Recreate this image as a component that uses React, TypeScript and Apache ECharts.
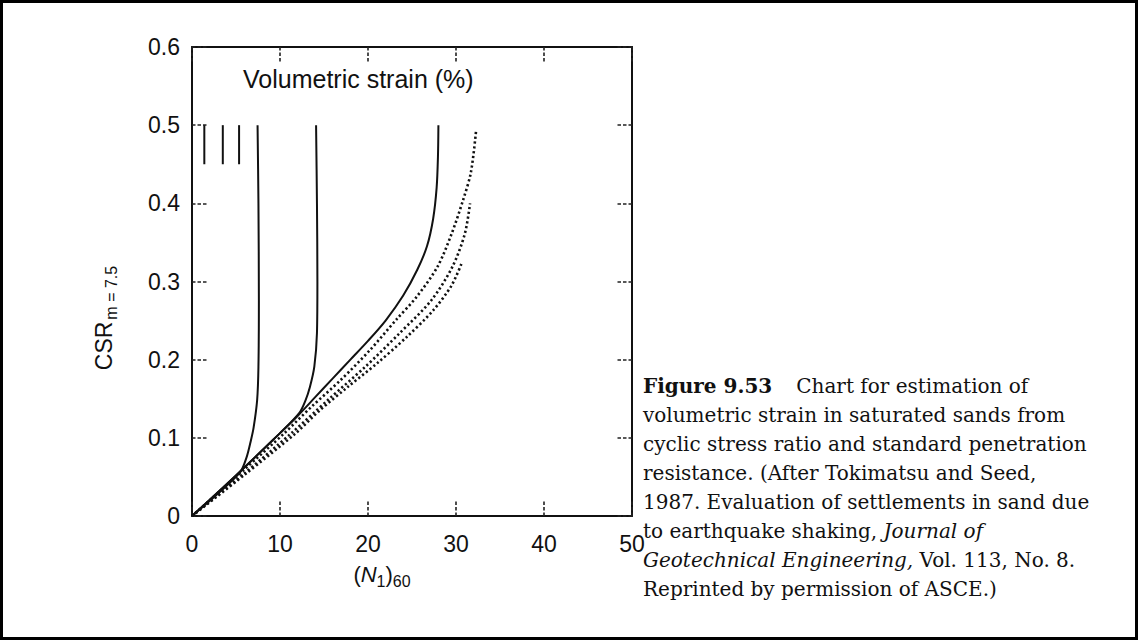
import React, { useEffect, useRef } from 'react';
import * as echarts from 'echarts';

// ---- data ----
const xTickLabels = ['0', '10', '20', '30', '40', '50'];
const yTickLabels = ['0', '0.1', '0.2', '0.3', '0.4', '0.5', '0.6'];

const strainLabels = ['10', '5', '4', '3', '2', '1', '0.5', '0.2', '0.1'];

const strain10 = [[1.4, 0.45], [1.4, 0.5]];
const strain5 = [[3.5, 0.45], [3.5, 0.5]];
const strain4 = [[5.35, 0.45], [5.35, 0.5]];
const strain3 = [[0, 0], [5.4, 0.055], [6.2, 0.075], [6.7, 0.097], [7.0, 0.113], [7.4, 0.148], [7.55, 0.191], [7.6, 0.276], [7.55, 0.4], [7.45, 0.5]];
const strain2 = [[0, 0], [5, 0.052], [10, 0.106], [12.2, 0.132], [12.9, 0.148], [13.4, 0.165], [13.9, 0.191], [14.2, 0.234], [14.25, 0.3], [14.2, 0.4], [14.1, 0.5]];
const strain1 = [[0, 0], [5, 0.052], [10, 0.106], [12, 0.128], [14, 0.152], [16, 0.176], [18, 0.2], [20, 0.224], [22, 0.25], [24, 0.282], [25.6, 0.315], [26.7, 0.345], [27.4, 0.38], [27.8, 0.42], [27.95, 0.46], [28, 0.5]];
const strain05 = [[0, 0], [6, 0.06], [10.5, 0.106], [13.6, 0.14], [16.9, 0.174], [20.2, 0.212], [23.2, 0.251], [25.5, 0.28], [27.9, 0.319], [29.5, 0.361], [30.8, 0.404], [31.7, 0.44], [32.3, 0.495]];
const strain02 = [[0, 0], [6, 0.055], [11.3, 0.106], [15.5, 0.149], [19.7, 0.191], [23.6, 0.234], [27.2, 0.276], [29.6, 0.319], [31, 0.361], [31.6, 0.4]];
const strain01 = [[0, 0], [6, 0.053], [11.8, 0.106], [14.5, 0.135], [17.8, 0.166], [21, 0.195], [24.4, 0.229], [27.4, 0.263], [29.5, 0.295], [30.7, 0.325]];

const captionLines = [
  '{b|Figure 9.53}{r|Chart for estimation of}',
  '{r|volumetric strain in saturated sands from}',
  '{r|cyclic stress ratio and standard penetration}',
  '{r|resistance. (After Tokimatsu and Seed,}',
  '{r|1987. Evaluation of settlements in sand due}',
  '{r|to earthquake shaking, }{i|Journal of}',
  '{i|Geotechnical Engineering,}{r| Vol. 113, No. 8.}',
  '{r|Reprinted by permission of ASCE.)}',
];

const SANS = '"Liberation Sans", Arial, sans-serif';
const SERIF = '"DejaVu Serif", serif';
const INK = '#111';

function App() {
  const ref = useRef<HTMLDivElement>(null);

  useEffect(() => {
    document.body.style.margin = '0';
    const chart = echarts.init(ref.current!, undefined, { renderer: 'svg' });

    const solid = { color: INK, width: 2 };
    const dotted = { color: INK, width: 2.6, type: [2.2, 2.6] as any };

    const topLabel = (text: string) => ({
      show: true,
      position: 'top',
      distance: 5,
      formatter: text,
      fontFamily: SANS,
      fontSize: 19,
      color: INK,
    });

    const sideLabel = (text: string, offset: number[]) => ({
      show: true,
      position: 'right',
      distance: 0,
      offset,
      formatter: text,
      fontFamily: SANS,
      fontSize: 19,
      color: INK,
    });

    const mk = (name: string, data: number[][], line: any, label: any) => ({
      type: 'line',
      name,
      data: data.map((p, i) =>
        i === data.length - 1 ? { value: p, label } : { value: p }
      ),
      showSymbol: true,
      symbol: 'none',
      smooth: 0.3,
      lineStyle: line,
      silent: true,
      z: 3,
    });

    const tick = () => ({
      show: true,
      inside: true,
      length: 15,
      lineStyle: { color: '#222', width: 1.6, type: [3.5, 2] as any },
    });
    const axisLine = () => ({ show: true, onZero: false, lineStyle: { color: INK, width: 2 } });

    chart.setOption({
      animation: false,
      backgroundColor: '#fff',
      grid: { left: 192, right: 506, top: 47, bottom: 124, containLabel: false },
      xAxis: [
        {
          type: 'value', min: 0, max: 50, interval: 10, position: 'bottom',
          axisLine: axisLine(), axisTick: tick(), splitLine: { show: false },
          axisLabel: {
            margin: 16, fontFamily: SANS, fontSize: 23, color: INK,
            formatter: (v: number) => xTickLabels[Math.round(v / 10)],
          },
        },
        {
          type: 'value', min: 0, max: 50, interval: 10, position: 'top',
          axisLine: axisLine(), axisTick: tick(), splitLine: { show: false },
          axisLabel: { show: false },
        },
      ],
      yAxis: [
        {
          type: 'value', min: 0, max: 0.6, interval: 0.1, position: 'left',
          axisLine: axisLine(), axisTick: tick(), splitLine: { show: false },
          axisLabel: {
            margin: 12, fontFamily: SANS, fontSize: 23, color: INK,
            formatter: (v: number) => yTickLabels[Math.round(v * 10)],
          },
        },
        {
          type: 'value', min: 0, max: 0.6, interval: 0.1, position: 'right',
          axisLine: axisLine(), axisTick: tick(), splitLine: { show: false },
          axisLabel: { show: false },
        },
      ],
      series: [
        mk('10', strain10, solid, topLabel(strainLabels[0])),
        mk('5', strain5, solid, topLabel(strainLabels[1])),
        mk('4', strain4, solid, topLabel(strainLabels[2])),
        mk('3', strain3, solid, topLabel(strainLabels[3])),
        mk('2', strain2, solid, topLabel(strainLabels[4])),
        mk('1', strain1, solid, topLabel(strainLabels[5])),
        mk('0.5', strain05, dotted, topLabel(strainLabels[6])),
        mk('0.2', strain02, dotted, sideLabel(strainLabels[7], [-2, -12])),
        mk('0.1', strain01, dotted, sideLabel(strainLabels[8], [2, -10])),
      ],
      graphic: [
        {
          type: 'text', left: 243, top: 66,
          style: { text: 'Volumetric strain (%)', fontFamily: SANS, fontSize: 25, fill: INK },
        },
        {
          type: 'text', x: 104, y: 318, rotation: Math.PI / 2,
          style: {
            text: '{a|CSR}{s|m = 7.5}',
            align: 'center', verticalAlign: 'middle',
            rich: {
              a: { fontFamily: SANS, fontSize: 23, fill: INK, lineHeight: 30, verticalAlign: 'middle' },
              s: { fontFamily: SANS, fontSize: 16, fill: INK, lineHeight: 16, verticalAlign: 'bottom', padding: [0, 0, 0, 2] },
            },
          },
        },
        {
          type: 'text', x: 382, y: 574,
          style: {
            text: '{p|(}{n|N}{s|1}{p|)}{s|60}',
            align: 'center', verticalAlign: 'middle',
            rich: {
              p: { fontFamily: SANS, fontSize: 22, fill: INK, lineHeight: 30, verticalAlign: 'middle' },
              n: { fontFamily: SANS, fontSize: 22, fontStyle: 'italic', fill: INK, lineHeight: 30, verticalAlign: 'middle' },
              s: { fontFamily: SANS, fontSize: 16, fill: INK, lineHeight: 16, verticalAlign: 'bottom' },
            },
          },
        },
        {
          type: 'text', left: 643, top: 376,
          style: {
            text: captionLines.join('\n'),
            rich: {
              b: { fontFamily: SERIF, fontSize: 20, fontWeight: 'bold', fill: INK, lineHeight: 29, padding: [0, 24, 0, 0] },
              r: { fontFamily: SERIF, fontSize: 20, fill: INK, lineHeight: 29 },
              i: { fontFamily: SERIF, fontSize: 20, fontStyle: 'italic', fill: INK, lineHeight: 29 },
            },
          },
        },
      ],
    });

    return () => chart.dispose();
  }, []);

  return (
    <div style={{ position: 'relative', width: 1138, height: 640, background: '#fff' }}>
      <div ref={ref} style={{ position: 'absolute', left: 0, top: 0, width: 1138, height: 640 }} />
      <div
        style={{
          position: 'absolute', left: 0, top: 0, width: 1138, height: 640,
          boxSizing: 'border-box', border: '3px solid #000', pointerEvents: 'none',
        }}
      />
    </div>
  );
}

export default App;
